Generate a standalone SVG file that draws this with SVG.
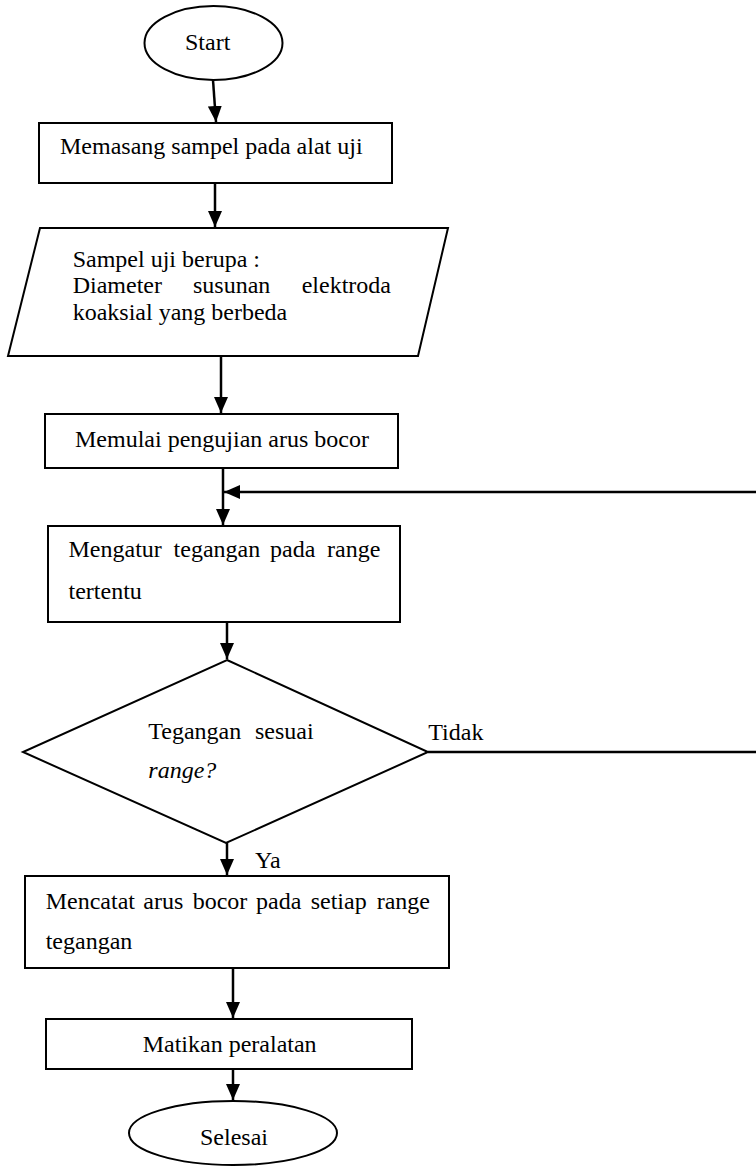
<svg xmlns="http://www.w3.org/2000/svg" width="756" height="1168" viewBox="0 0 756 1168">
<defs>
<style>
.s{fill:#fff;stroke:#000;stroke-width:2}
.c{fill:none;stroke:#000;stroke-width:2.5}
text{font-family:"Liberation Serif","Times New Roman",serif;font-size:24px;fill:#000}
.i{font-style:italic}
</style>
<marker id="ah" markerUnits="userSpaceOnUse" markerWidth="16" markerHeight="14" refX="16" refY="7" orient="auto">
<path d="M0,0 L16,7 L0,14 z" fill="#000"/>
</marker>
</defs>
<rect width="756" height="1168" fill="#fff"/>
<g id="connectors">
<path class="c" d="M213,80 L216,122" marker-end="url(#ah)"/>
<path class="c" d="M215,183 L215,227" marker-end="url(#ah)"/>
<path class="c" d="M221,357 L221,413" marker-end="url(#ah)"/>
<path class="c" d="M223,468 L223,525" marker-end="url(#ah)"/>
<path class="c" d="M227,622 L227,659" marker-end="url(#ah)"/>
<path class="c" d="M428,752 L760,752 L760,492 L224,492" marker-end="url(#ah)"/>
<path class="c" d="M227,843 L227,875" marker-end="url(#ah)"/>
<path class="c" d="M233,968 L233,1018" marker-end="url(#ah)"/>
<path class="c" d="M233,1069 L233,1100" marker-end="url(#ah)"/>
<text x="428.3" y="740">Tidak</text>
<text x="255" y="868">Ya</text>
</g>
<g id="start">
<ellipse class="s" cx="213.5" cy="43" rx="69" ry="37"/>
<text x="185" y="50">Start</text>
</g>
<g id="memasang">
<rect class="s" x="39" y="123" width="353" height="60"/>
<text x="60" y="153.5">Memasang sampel pada alat uji</text>
</g>
<g id="sampel">
<polygon class="s" points="40,228 448,228 418,356 8,356"/>
<text x="72.7" y="267">Sampel uji berupa :</text>
<text x="72.7" y="293">Diameter</text>
<text x="193" y="293">susunan</text>
<text x="301.7" y="293">elektroda</text>
<text x="72.7" y="320">koaksial yang berbeda</text>
</g>
<g id="memulai">
<rect class="s" x="45" y="414" width="353" height="54"/>
<text x="75" y="447">Memulai pengujian arus bocor</text>
</g>
<g id="mengatur">
<rect class="s" x="48" y="526" width="352" height="96"/>
<text x="68.5" y="557">Mengatur</text>
<text x="173.6" y="557">tegangan</text>
<text x="270" y="557">pada</text>
<text x="327" y="557">range</text>
<text x="68.5" y="599">tertentu</text>
</g>
<g id="decision">
<polygon class="s" points="227,660 428,752 226,843 23,752"/>
<text x="148.3" y="739">Tegangan</text>
<text x="255" y="739">sesuai</text>
<text class="i" x="148.3" y="778">range?</text>
</g>
<g id="mencatat">
<rect class="s" x="25" y="876" width="424" height="92"/>
<text x="45.7" y="909">Mencatat</text>
<text x="143.3" y="909">arus</text>
<text x="192.7" y="909">bocor</text>
<text x="256" y="909">pada</text>
<text x="310.7" y="909">setiap</text>
<text x="376.7" y="909">range</text>
<text x="45.7" y="949">tegangan</text>
</g>
<g id="matikan">
<rect class="s" x="46" y="1019" width="366" height="50"/>
<text x="142.7" y="1052">Matikan peralatan</text>
</g>
<g id="selesai">
<ellipse class="s" cx="233" cy="1133" rx="104" ry="32"/>
<text x="200" y="1145">Selesai</text>
</g>
</svg>
